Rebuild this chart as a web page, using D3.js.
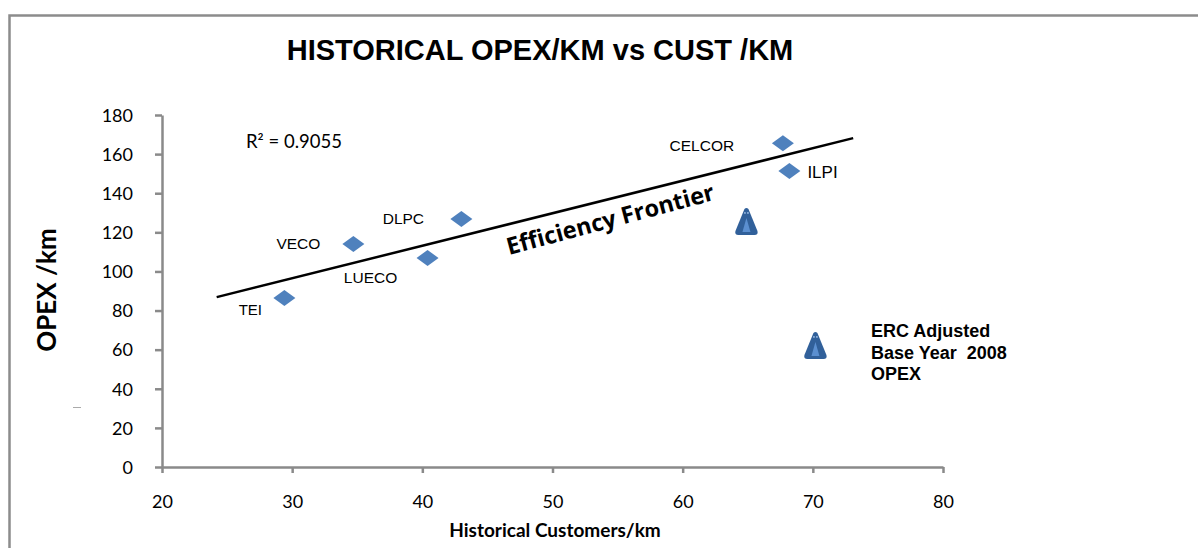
<!DOCTYPE html>
<html><head><meta charset="utf-8">
<script src="https://cdn.jsdelivr.net/npm/d3@7"></script>
<style>body{margin:0;background:#fff}</style>
</head><body>
<svg id="c" width="1198" height="548"></svg>
<script>
const companies = ["TEI","VECO","LUECO","DLPC","CELCOR","ILPI"];
const custPerKm = [29.4, 34.7, 40.4, 43.0, 67.7, 68.2];
const opexPerKm = [86.4, 114.0, 106.9, 126.8, 165.6, 151.3];
const ercCust = [64.9, 70.2];
const ercOpex = [125.3, 61.9];
const trendRange = [24.2, 73.1];
const xTicks = [20,30,40,50,60,70,80];
const yTicks = [0,20,40,60,80,100,120,140,160,180];

const svg = d3.select("#c");
const x = d3.scaleLinear().domain([20,80]).range([162,943]);
const y = d3.scaleLinear().domain([0,180]).range([467,115]);
const axisColor = "#8a8a8a";
const tickFont = "Lato, 'Open Sans', sans-serif";
const arial = "Arial, 'Liberation Sans', sans-serif";

// frame
svg.append("path").attr("d","M9.5,560 V15.5 H1210").attr("fill","none").attr("stroke","#8c8c8c").attr("stroke-width",2.5);

// title
svg.append("text").attr("x",540).attr("y",60).attr("text-anchor","middle")
  .attr("font-family",arial).attr("font-weight","bold").attr("font-size",29)
  .text("HISTORICAL OPEX/KM vs CUST /KM");

// axes
const gx = svg.append("g").attr("transform",`translate(0,${y(0)})`)
  .call(d3.axisBottom(x).tickValues(xTicks).tickSize(6).tickSizeOuter(0).tickPadding(22));
const gy = svg.append("g").attr("transform",`translate(${x(20)},0)`)
  .call(d3.axisLeft(y).tickValues(yTicks).tickSize(7).tickSizeOuter(0).tickPadding(22));
[gx,gy].forEach(g=>{
  g.select(".domain").attr("stroke",axisColor).attr("stroke-width",2.5);
  g.selectAll(".tick line").attr("stroke",axisColor).attr("stroke-width",2.5);
  g.selectAll(".tick text").attr("font-family",tickFont).attr("font-size",18).attr("fill","#000");
});
gy.selectAll(".tick text").attr("dy","0.35em");

// axis titles
svg.append("text").attr("transform","translate(56,290) rotate(-90)").attr("text-anchor","middle")
  .attr("font-family",tickFont).attr("font-weight","bold").attr("font-size",26).text("OPEX /km");
svg.append("text").attr("x",555).attr("y",537).attr("text-anchor","middle")
  .attr("font-family",tickFont).attr("font-weight","bold").attr("font-size",19).text("Historical Customers/km");
svg.append("line").attr("x1",73).attr("x2",81).attr("y1",407.5).attr("y2",407.5).attr("stroke","#aaa").attr("stroke-width",1);

// trendline (least squares)
const n = custPerKm.length;
const mx = d3.mean(custPerKm), my = d3.mean(opexPerKm);
let sxy=0,sxx=0;
for(let i=0;i<n;i++){ sxy+=(custPerKm[i]-mx)*(opexPerKm[i]-my); sxx+=(custPerKm[i]-mx)**2; }
const slope = sxy/sxx, icpt = my - slope*mx;
svg.append("line").attr("x1",x(trendRange[0])).attr("y1",y(icpt+slope*trendRange[0]))
  .attr("x2",x(trendRange[1])).attr("y2",y(icpt+slope*trendRange[1]))
  .attr("stroke","#000").attr("stroke-width",2.5);

svg.append("text").attr("x",246).attr("y",148)
  .attr("font-family",tickFont).attr("font-size",18.5).text("R² = 0.9055");

// diamonds
const pts = companies.map((c,i)=>({c, x:custPerKm[i], y:opexPerKm[i]}));
svg.selectAll("path.dia").data(pts).enter().append("path").attr("class","dia")
  .attr("d","M0,-8 L11,0 L0,8 L-11,0 Z")
  .attr("transform",d=>`translate(${x(d.x)},${y(d.y)})`)
  .attr("fill","#4f81bd");

// labels
const labelOff = {TEI:[-34,17,"middle",15], VECO:[-33,5,"end",15.5], LUECO:[-57,25,"middle",15.5], DLPC:[-58,5,"middle",15.5], CELCOR:[-81,8,"middle",15.5], ILPI:[18,7,"start",17]};
svg.selectAll("text.lab").data(pts).enter().append("text").attr("class","lab")
  .attr("x",d=>x(d.x)+labelOff[d.c][0]).attr("y",d=>y(d.y)+labelOff[d.c][1])
  .attr("text-anchor",d=>labelOff[d.c][2])
  .attr("font-family",arial).attr("font-size",d=>labelOff[d.c][3])
  .text(d=>d.c);

// ERC triangles
const erc = ercCust.map((v,i)=>({x:v,y:ercOpex[i]}));
const tg = svg.selectAll("g.tri").data(erc).enter().append("g").attr("class","tri")
  .attr("transform",d=>`translate(${x(d.x)},${y(d.y)})`);
tg.append("path").attr("d","M-2,-13 Q0,-15 2,-13 L11,9 Q12,13 8,13 L-8,13 Q-12,13 -11,9 Z").attr("fill","#31609a");
tg.append("path").attr("d","M0,-4 L4,10 L-4,10 Z").attr("fill","#5b8fd0");
tg.append("circle").attr("cx",-1.5).attr("cy",-9).attr("r",0.9).attr("fill","#9fc0e8");
tg.append("circle").attr("cx",1.5).attr("cy",-9).attr("r",0.9).attr("fill","#9fc0e8");

// efficiency frontier label
svg.append("text").attr("transform","translate(509,255) rotate(-15)")
  .attr("font-family","'Open Sans', sans-serif").attr("font-weight","bold").attr("font-size",23.5)
  .text("Efficiency Frontier");

// ERC annotation
const ercLines = ["ERC Adjusted","Base Year  2008","OPEX"];
svg.append("text").attr("font-family",arial).attr("font-weight","bold").attr("font-size",18)
  .attr("xml:space","preserve")
  .selectAll("tspan").data(ercLines).enter().append("tspan")
  .attr("x",871).attr("y",(d,i)=>337+i*21.5).text(d=>d);
</script>
</body></html>
